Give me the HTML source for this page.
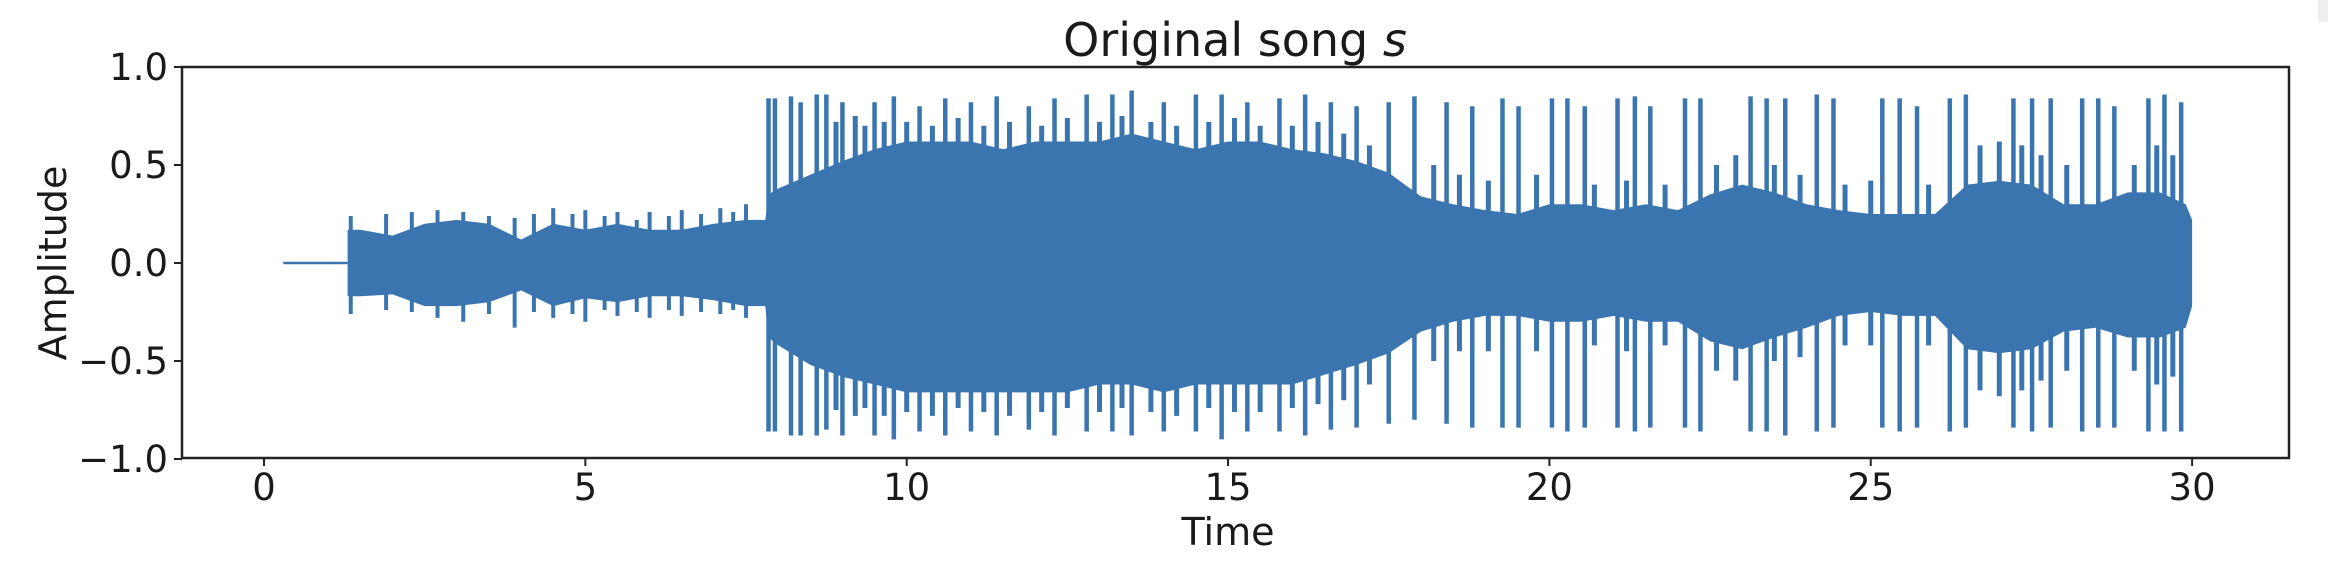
<!DOCTYPE html>
<html><head><meta charset="utf-8"><style>
html,body{margin:0;padding:0;background:#fff;}
svg{display:block;}
text{font-family:"DejaVu Sans","Liberation Sans",sans-serif;fill:#1a1a1a;}
</style></head><body>
<svg id="chart" width="2328" height="563" viewBox="0 0 2328 563" xmlns="http://www.w3.org/2000/svg">
<rect x="2318" y="0" width="10" height="22" fill="#eeeeee"/>
<text x="1235" y="56" font-size="46" text-anchor="middle">Original song <tspan font-style="italic">s</tspan></text>
<g id="plot"></g>
<g id="axes"></g>
<text x="1228" y="545" font-size="38" text-anchor="middle">Time</text>
<text transform="translate(66,263) rotate(-90)" font-size="38" text-anchor="middle">Amplitude</text>
</svg>
<script>
const xTicks = [0, 5, 10, 15, 20, 25, 30];
const yTicks = [-1.0, -0.5, 0.0, 0.5, 1.0];
const yTickLabels = ["\u22121.0", "\u22120.5", "0.0", "0.5", "1.0"];
const silenceStart = 0.3;
const silenceEnd = 1.3;
const envTimes = [1.3,1.5,2,2.5,3,3.5,4,4.5,5,5.5,6,6.5,7,7.5,7.8,7.85,8,8.5,9,9.5,10,10.5,11,11.5,12,12.5,13,13.5,14,14.5,15,15.5,16,16.5,17,17.5,18,18.5,19,19.5,20,20.5,21,21.5,22,22.5,23,23.5,24,24.5,25,25.5,26,26.5,27,27.5,28,28.5,29,29.5,29.9,30];
const envUpper = [0.17,0.17,0.14,0.2,0.22,0.2,0.12,0.2,0.17,0.2,0.17,0.17,0.2,0.22,0.22,0.35,0.38,0.45,0.52,0.58,0.62,0.62,0.62,0.58,0.62,0.62,0.62,0.66,0.62,0.58,0.62,0.62,0.58,0.56,0.52,0.46,0.34,0.3,0.27,0.25,0.3,0.3,0.27,0.3,0.27,0.35,0.4,0.36,0.3,0.27,0.25,0.25,0.25,0.4,0.42,0.4,0.3,0.3,0.36,0.36,0.3,0.22];
const envLower = [-0.17,-0.17,-0.16,-0.22,-0.22,-0.2,-0.14,-0.22,-0.18,-0.2,-0.17,-0.17,-0.19,-0.22,-0.22,-0.38,-0.42,-0.52,-0.58,-0.62,-0.66,-0.66,-0.66,-0.66,-0.66,-0.66,-0.62,-0.62,-0.66,-0.62,-0.62,-0.62,-0.62,-0.57,-0.52,-0.46,-0.35,-0.3,-0.27,-0.27,-0.3,-0.3,-0.27,-0.3,-0.3,-0.4,-0.44,-0.38,-0.33,-0.27,-0.25,-0.27,-0.27,-0.44,-0.46,-0.44,-0.35,-0.33,-0.38,-0.38,-0.33,-0.22];
const smallSpikeTimes = [1.35,1.9,2.3,2.7,3.1,3.5,3.9,4.2,4.5,4.8,5.0,5.3,5.5,5.8,6.0,6.3,6.5,6.8,7.1,7.3,7.5];
const smallSpikeTop = [0.24,0.25,0.26,0.27,0.26,0.24,0.23,0.25,0.28,0.25,0.27,0.24,0.26,0.22,0.26,0.24,0.27,0.25,0.28,0.26,0.3];
const smallSpikeBottom = [-0.26,-0.24,-0.25,-0.28,-0.3,-0.26,-0.33,-0.25,-0.28,-0.26,-0.3,-0.24,-0.27,-0.25,-0.28,-0.24,-0.27,-0.25,-0.26,-0.24,-0.28];
const midSpikeTimes = [8.9,9.2,9.35,9.65,10.0,10.4,10.8,11.2,11.6,12.1,12.5,13.0,13.35,13.8,14.2,14.7,15.1,15.5,16.0,16.4,16.8,17.2,18.2,18.6,19.05,19.8,20.7,21.2,21.8,22.6,22.9,23.5,23.9,24.6,25.0,25.9,26.7,27.0,27.35,27.65,28.05,29.1,29.45,29.7];
const midSpikeTop = [0.72,0.75,0.7,0.72,0.72,0.7,0.74,0.7,0.72,0.7,0.74,0.72,0.75,0.72,0.7,0.72,0.74,0.7,0.7,0.72,0.66,0.6,0.5,0.45,0.42,0.45,0.4,0.42,0.4,0.5,0.55,0.5,0.45,0.4,0.42,0.4,0.6,0.62,0.6,0.55,0.5,0.5,0.6,0.55];
const midSpikeBottom = [-0.75,-0.78,-0.74,-0.78,-0.76,-0.78,-0.74,-0.76,-0.78,-0.76,-0.74,-0.76,-0.74,-0.76,-0.78,-0.74,-0.76,-0.76,-0.74,-0.72,-0.7,-0.62,-0.5,-0.45,-0.45,-0.45,-0.42,-0.45,-0.42,-0.55,-0.6,-0.5,-0.48,-0.42,-0.42,-0.42,-0.65,-0.68,-0.65,-0.6,-0.55,-0.55,-0.62,-0.58];
const spikeTimes = [7.85,7.95,8.2,8.35,8.6,8.75,9.0,9.5,9.8,10.2,10.6,11.0,11.4,11.9,12.3,12.8,13.2,13.5,14.0,14.5,14.9,15.3,15.8,16.2,16.6,17.0,17.5,17.9,18.4,18.8,19.27,19.52,20.04,20.28,20.55,21.06,21.33,21.57,22.11,22.35,23.13,23.38,23.67,24.16,24.42,25.18,25.45,25.72,26.23,26.48,27.22,27.51,27.8,28.29,28.54,28.79,29.32,29.57,29.83];
const spikeTop = [0.84,0.84,0.85,0.82,0.86,0.86,0.82,0.82,0.85,0.8,0.84,0.82,0.85,0.8,0.84,0.86,0.86,0.88,0.82,0.86,0.86,0.82,0.84,0.86,0.82,0.8,0.82,0.85,0.82,0.8,0.84,0.8,0.84,0.84,0.8,0.84,0.85,0.8,0.84,0.84,0.85,0.84,0.84,0.86,0.84,0.84,0.84,0.8,0.84,0.86,0.84,0.84,0.84,0.84,0.84,0.8,0.84,0.86,0.82];
const spikeBottom = [-0.86,-0.86,-0.88,-0.88,-0.88,-0.85,-0.88,-0.88,-0.9,-0.86,-0.88,-0.86,-0.88,-0.85,-0.88,-0.86,-0.86,-0.88,-0.86,-0.86,-0.9,-0.86,-0.86,-0.88,-0.85,-0.84,-0.82,-0.8,-0.82,-0.84,-0.84,-0.84,-0.84,-0.86,-0.84,-0.84,-0.86,-0.84,-0.84,-0.86,-0.86,-0.86,-0.88,-0.86,-0.84,-0.84,-0.86,-0.84,-0.86,-0.84,-0.84,-0.86,-0.84,-0.86,-0.84,-0.84,-0.86,-0.86,-0.86];

const NS = "http://www.w3.org/2000/svg";
const AX_L = 182, AX_R = 2289, AX_T = 67, AX_B = 458;
function xScale(t){ return 264 + t * 64.27; }
function yScale(v){ return 263 - v * 196; }
const COLOR = "#3b75af";
const plot = document.getElementById('plot');
const axes = document.getElementById('axes');
function mk(tag, attrs, parent){ const e = document.createElementNS(NS, tag); for (const k in attrs) e.setAttribute(k, attrs[k]); parent.appendChild(e); return e; }

const sl = mk('line', {x1: xScale(silenceStart), x2: xScale(silenceEnd), y1: yScale(0), y2: yScale(0), stroke: COLOR, 'stroke-width': 2.5}, plot);



let pts = [];
for (let i = 0; i < envTimes.length; i++) pts.push(xScale(envTimes[i]).toFixed(1) + ',' + yScale(envUpper[i]).toFixed(1));
for (let i = envTimes.length - 1; i >= 0; i--) pts.push(xScale(envTimes[i]).toFixed(1) + ',' + yScale(envLower[i]).toFixed(1));
const body = mk('polygon', {points: pts.join(' '), fill: COLOR}, plot);



for (let i = 0; i < smallSpikeTimes.length; i++) {
  const s = mk('line', {x1: xScale(smallSpikeTimes[i]), x2: xScale(smallSpikeTimes[i]), y1: yScale(smallSpikeTop[i]), y2: yScale(smallSpikeBottom[i]), stroke: COLOR, 'stroke-width': 4}, plot);
  
  
}
for (let i = 0; i < midSpikeTimes.length; i++) {
  const s = mk('line', {x1: xScale(midSpikeTimes[i]), x2: xScale(midSpikeTimes[i]), y1: yScale(midSpikeTop[i]), y2: yScale(midSpikeBottom[i]), stroke: COLOR, 'stroke-width': 5}, plot);
  
  
}
for (let i = 0; i < spikeTimes.length; i++) {
  const s = mk('line', {x1: xScale(spikeTimes[i]), x2: xScale(spikeTimes[i]), y1: yScale(spikeTop[i]), y2: yScale(spikeBottom[i]), stroke: COLOR, 'stroke-width': 4.5}, plot);
  
  
}

const frame = mk('rect', {x: AX_L, y: AX_T, width: AX_R - AX_L, height: AX_B - AX_T, fill: 'none', stroke: '#222', 'stroke-width': 2.5}, axes);



for (let i = 0; i < xTicks.length; i++) {
  const x = xScale(xTicks[i]);
  const tk = mk('line', {x1: x, x2: x, y1: AX_B, y2: AX_B + 8, stroke: '#222', 'stroke-width': 2}, axes);
  
  
  const lb = mk('text', {x: x, y: 500, 'font-size': 37, 'text-anchor': 'middle'}, axes);
  lb.textContent = String(xTicks[i]);
  
  
}
for (let i = 0; i < yTicks.length; i++) {
  const y = yScale(yTicks[i]);
  const tk = mk('line', {x1: AX_L - 8, x2: AX_L, y1: y, y2: y, stroke: '#222', 'stroke-width': 2}, axes);
  
  
  const lb = mk('text', {x: 168, y: y + 13, 'font-size': 37, 'text-anchor': 'end'}, axes);
  lb.textContent = yTickLabels[i];
  
  
}
</script>
</body></html>
